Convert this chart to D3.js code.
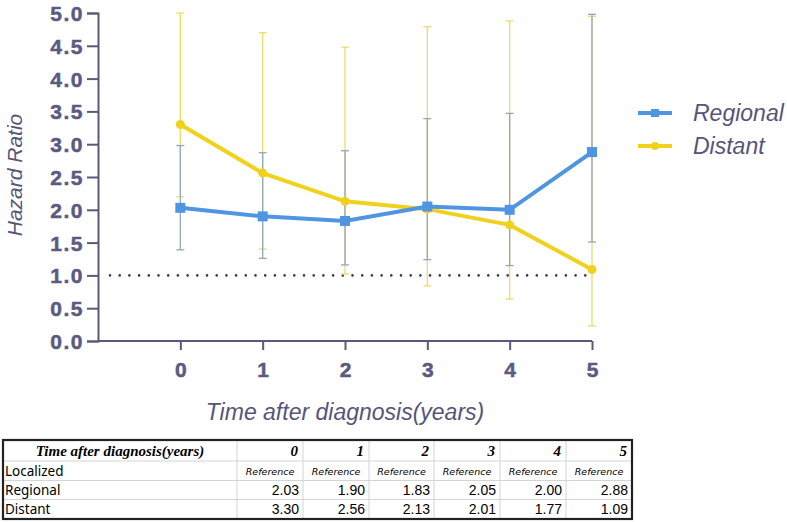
<!DOCTYPE html>
<html><head><meta charset="utf-8">
<script src="https://cdn.jsdelivr.net/npm/d3@7"></script>
<style>body{margin:0;background:#fff}svg{display:block}</style>
</head><body>
<script>
const years = [0, 1, 2, 3, 4, 5];
const regional = [2.03, 1.90, 1.83, 2.05, 2.00, 2.88];
const distant = [3.30, 2.56, 2.13, 2.01, 1.77, 1.09];
const regionalLow = [1.39, 1.26, 1.16, 1.24, 1.15, 1.51];
const regionalHigh = [2.98, 2.87, 2.90, 3.39, 3.47, 4.98];
const distantLow = [2.20, 1.40, 1.02, 0.84, 0.64, 0.23];
const distantHigh = [5.00, 4.70, 4.48, 4.79, 4.88, 4.95];
const yTicks = [0, 0.5, 1, 1.5, 2, 2.5, 3, 3.5, 4, 4.5, 5];
const seriesNames = ["Regional", "Distant"];
const tableHeader = ["Time after diagnosis(years)", "0", "1", "2", "3", "4", "5"];
const tableRowLabels = ["Localized", "Regional", "Distant"];
const referenceLabel = "Reference";

const W = 787, H = 522;
const svg = d3.select("body").append("svg").attr("width", W).attr("height", H);
const axisCol = "#5a5a78", labelCol = "#5a5a82";
const blue = "#4f95e2", yellow = "#f0d21e";

const x = d3.scaleLinear().domain([-1, 5]).range([98, 592]);
const y = d3.scaleLinear().domain([0, 5]).range([341, 13]);

// Axes
const yAxis = svg.append("g").attr("transform", "translate(98,0)")
  .call(d3.axisLeft(y).tickValues(yTicks).tickFormat(d3.format(".1f")).tickSizeOuter(0).tickSize(11).tickPadding(3));
const xAxis = svg.append("g").attr("transform", "translate(0,341)")
  .call(d3.axisBottom(x).tickValues(years).tickFormat(d3.format("d")).tickSizeOuter(0).tickSize(9).tickPadding(12));
[yAxis, xAxis].forEach(g => {
  g.select(".domain").attr("stroke", axisCol).attr("stroke-width", 2);
  g.selectAll(".tick line").attr("stroke", axisCol).attr("stroke-width", 2);
  g.selectAll(".tick text").attr("fill", labelCol)
    .style("font-family", "'Liberation Sans', Arial, sans-serif").style("font-weight", "bold")
    .style("font-size", "21px").attr("stroke", labelCol).attr("stroke-width", 0.5);
});
yAxis.selectAll(".tick text").style("letter-spacing", "1.5px").attr("dy", "0.36em");
xAxis.select(".domain").attr("d", `M${x(-1)},0H${x(5)}`);

// Reference dotted line at HR=1
svg.append("line").attr("x1", 110).attr("x2", x(5)).attr("y1", y(1)).attr("y2", y(1))
  .attr("stroke", "#3c3c4c").attr("stroke-width", 2.6).attr("stroke-dasharray", "0 9.7").attr("stroke-linecap", "round");

// Error bars
function errBars(lo, hi, col) {
  const g = svg.append("g").attr("stroke", col).attr("stroke-width", 1.3).attr("fill", "none");
  years.forEach((yr, i) => {
    g.append("line").attr("x1", x(yr)).attr("x2", x(yr)).attr("y1", y(lo[i])).attr("y2", y(hi[i]));
    g.append("line").attr("x1", x(yr) - 4).attr("x2", x(yr) + 4).attr("y1", y(lo[i])).attr("y2", y(lo[i]));
    g.append("line").attr("x1", x(yr) - 4).attr("x2", x(yr) + 4).attr("y1", y(hi[i])).attr("y2", y(hi[i]));
  });
}
errBars(distantLow, distantHigh, "#ecdc6a");
errBars(regionalLow, regionalHigh, "#93a8b8");

const line = d3.line().x((d, i) => x(years[i])).y(d => y(d));
svg.append("path").datum(distant).attr("d", line).attr("fill", "none").attr("stroke", yellow).attr("stroke-width", 4);
svg.selectAll(".dpt").data(distant).join("circle").attr("cx", (d, i) => x(years[i])).attr("cy", d => y(d)).attr("r", 4.5).attr("fill", yellow);
svg.append("path").datum(regional).attr("d", line).attr("fill", "none").attr("stroke", blue).attr("stroke-width", 4);
svg.selectAll(".rpt").data(regional).join("rect").attr("x", (d, i) => x(years[i]) - 5).attr("y", d => y(d) - 5).attr("width", 10).attr("height", 10).attr("fill", blue);

// Axis titles
svg.append("text").attr("transform", `translate(22,175) rotate(-90)`).attr("text-anchor", "middle")
  .attr("fill", "#55557a").style("font-family", "'Liberation Sans', Arial, sans-serif").style("font-style", "italic").style("font-size", "21px").text("Hazard Ratio");
svg.append("text").attr("x", 345).attr("y", 420).attr("text-anchor", "middle")
  .attr("fill", "#55557a").style("font-family", "'Liberation Sans', Arial, sans-serif").style("font-style", "italic").style("font-size", "23px").text("Time after diagnosis(years)");

// Legend
const legCols = [blue, yellow];
seriesNames.forEach((n, i) => {
  const ly = 113 + i * 33;
  const g = svg.append("g");
  g.append("line").attr("x1", 638).attr("x2", 672).attr("y1", ly).attr("y2", ly).attr("stroke", legCols[i]).attr("stroke-width", 4);
  if (i === 0) g.append("rect").attr("x", 651).attr("y", ly - 4).attr("width", 8).attr("height", 8).attr("fill", blue);
  else g.append("circle").attr("cx", 655).attr("cy", ly).attr("r", 4).attr("fill", yellow);
  g.append("text").attr("x", 693).attr("y", ly + 8).attr("fill", "#55557a")
    .style("font-family", "'Liberation Sans', Arial, sans-serif").style("font-style", "italic").style("font-size", "23px").text(n);
});

// Table
const colX = [3, 237, 303, 369, 434, 500, 566, 632];
const rowY = [440, 461, 480.5, 499.5, 519];
const tg = svg.append("g");
rowY.slice(1, -1).forEach(ry => tg.append("line").attr("x1", colX[0]).attr("x2", colX[7]).attr("y1", ry).attr("y2", ry).attr("stroke", "#d4d4d4").attr("stroke-width", 1));
colX.slice(1, -1).forEach(cx => tg.append("line").attr("x1", cx).attr("x2", cx).attr("y1", rowY[0]).attr("y2", rowY[4]).attr("stroke", "#d4d4d4").attr("stroke-width", 1));
tg.append("rect").attr("x", colX[0]).attr("y", rowY[0]).attr("width", colX[7] - colX[0]).attr("height", rowY[4] - rowY[0])
  .attr("fill", "none").attr("stroke", "#222").attr("stroke-width", 2.2);
tg.append("text").attr("x", (colX[0] + colX[1]) / 2).attr("y", 456).attr("text-anchor", "middle")
  .style("font-family", "'Liberation Serif', 'Times New Roman', serif").style("font-weight", "bold").style("font-style", "italic").style("font-size", "15px").text(tableHeader[0]);
tableHeader.slice(1).forEach((h, i) => {
  tg.append("text").attr("x", colX[i + 2] - 5).attr("y", 456).attr("text-anchor", "end")
    .style("font-family", "'Liberation Serif', 'Times New Roman', serif").style("font-weight", "bold").style("font-style", "italic").style("font-size", "15px").text(h);
});
const rowData = [years.map(() => referenceLabel), regional.map(d => d.toFixed(2)), distant.map(d => d.toFixed(2))];
tableRowLabels.forEach((lab, r) => {
  const cy = (rowY[r + 1] + rowY[r + 2]) / 2 + 5;
  tg.append("text").attr("x", 5).attr("y", cy).style("font-family", "'Noto Sans', sans-serif").style("font-size", "13.5px").text(lab);
  rowData[r].forEach((v, c) => {
    const t = tg.append("text").attr("x", colX[c + 2] - 4).attr("y", cy).attr("text-anchor", "end").text(v);
    if (r === 0) t.attr("x", (colX[c + 1] + colX[c + 2]) / 2).attr("text-anchor", "middle").attr("y", cy - 1)
      .style("font-family", "'DejaVu Sans', sans-serif").style("font-style", "italic").style("font-size", "9.5px");
    else t.style("font-family", "'Liberation Sans', Arial, sans-serif").style("font-size", "14px");
  });
});
</script>
</body></html>
